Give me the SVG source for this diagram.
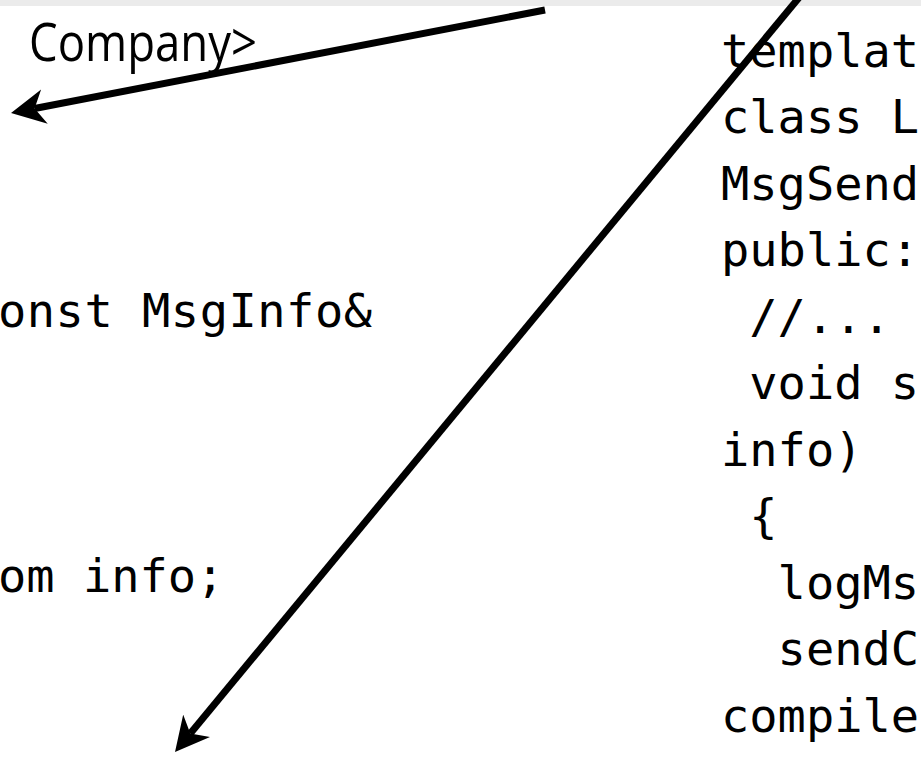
<svg xmlns="http://www.w3.org/2000/svg" width="921" height="758" viewBox="0 0 921 758">
  <style>
    .mono { font-family: "DejaVu Sans Mono", "Liberation Mono", monospace; font-size: 47px; fill: #000; }
    .sans { font-family: "Open Sans", "DejaVu Sans", sans-serif; font-size: 53px; fill: #000; }
    .arrow { fill: none; stroke: #000; stroke-width: 7; stroke-linecap: butt; }
  </style>
  <defs>
    <marker id="head" markerUnits="userSpaceOnUse" viewBox="0 -18 35 36" markerWidth="35" markerHeight="36" refX="10" refY="0" orient="auto">
      <path d="M0,-17.5 L34,0 L0,17.5 L10,0 Z" fill="#000"/>
    </marker>
  </defs>
  <rect x="0" y="0" width="921" height="758" fill="#fff"/>
  <rect x="0" y="0" width="921" height="6" fill="#ebebeb"/>

  <g id="left-code">
    <text class="sans" x="29" y="61" textLength="228" lengthAdjust="spacingAndGlyphs">Company&gt;</text>
    <text class="mono" x="-2" y="327" textLength="374" lengthAdjust="spacing" xml:space="preserve">onst MsgInfo&amp;</text>
    <text class="mono" x="-2" y="592" xml:space="preserve">om info;</text>
  </g>

  <g id="right-code">
    <text class="mono" x="721" y="67" xml:space="preserve">templat</text>
    <text class="mono" x="721" y="133" xml:space="preserve">class L</text>
    <text class="mono" x="721" y="200" xml:space="preserve">MsgSend</text>
    <text class="mono" x="721" y="266" xml:space="preserve">public:</text>
    <text class="mono" x="721" y="333" xml:space="preserve"> //...</text>
    <text class="mono" x="721" y="399" xml:space="preserve"> void s</text>
    <text class="mono" x="721" y="466" xml:space="preserve">info)</text>
    <text class="mono" x="721" y="532" xml:space="preserve"> {</text>
    <text class="mono" x="721" y="599" xml:space="preserve">  logMs</text>
    <text class="mono" x="721" y="665" xml:space="preserve">  sendC</text>
    <text class="mono" x="721" y="732" xml:space="preserve">compile</text>
  </g>

  <g id="connectors">
    <line class="arrow" x1="545" y1="10" x2="34.6" y2="108.5" marker-end="url(#head)"/>
    <line class="arrow" x1="802" y1="-6" x2="190.3" y2="733.5" marker-end="url(#head)"/>
  </g>
</svg>
